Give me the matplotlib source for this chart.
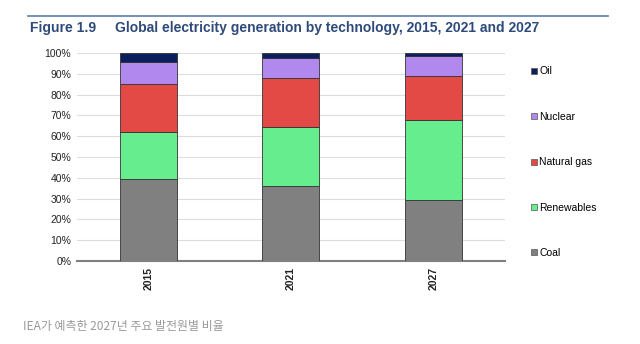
import matplotlib
matplotlib.use("Agg")
import matplotlib.pyplot as plt
from matplotlib.lines import Line2D
import numpy as np

years = ["2015", "2021", "2027"]
series_names = ["Coal", "Renewables", "Natural gas", "Nuclear", "Oil"]
coal = [39.4, 36.3, 29.5]
renewables = [22.8, 27.9, 38.3]
natural_gas = [22.9, 23.6, 21.3]
nuclear = [10.4, 9.8, 9.6]
oil = [4.5, 2.4, 1.3]
yticks = [0, 10, 20, 30, 40, 50, 60, 70, 80, 90, 100]

colors = {"Coal": "#808080", "Renewables": "#66EE8E", "Natural gas": "#E44A45",
          "Nuclear": "#B088EE", "Oil": "#0A1F5C"}

plt.rcParams['font.family'] = ['Liberation Sans', 'DejaVu Sans']

fig = plt.figure(figsize=(6.4, 3.44), dpi=100)
ax = fig.add_axes([0.120, 0.241, 0.669, 0.605])

x = np.arange(len(years))
bottom = np.zeros(len(years))
data = [coal, renewables, natural_gas, nuclear, oil]
for name, vals in zip(series_names, data):
    ax.bar(x, vals, width=0.4, bottom=bottom, color=colors[name],
           edgecolor="#333333", linewidth=0.6, zorder=3)
    bottom += np.array(vals)

ax.set_xlim(-0.5, 2.5)
ax.set_ylim(0, 100)
ax.set_yticks(yticks)
ax.set_yticklabels([f"{v}%" for v in yticks], fontsize=7.5, color="#222222")
ax.set_xticks(x)
ax.set_xticklabels(years, rotation=90, fontsize=7.5, fontweight="bold", color="#222222")
ax.tick_params(axis="both", length=0, pad=4)
ax.grid(axis="y", color="#DDDDDD", linewidth=0.8, zorder=0)
for s in ["top", "right", "left"]:
    ax.spines[s].set_visible(False)
ax.spines["bottom"].set_color("#808080")
ax.spines["bottom"].set_linewidth(1.5)

handles = [Line2D([], [], marker="s", linestyle="none", markersize=4.5,
                  markerfacecolor=colors[n], markeredgecolor="#555555", markeredgewidth=0.5)
           for n in series_names[::-1]]
fig.legend(handles, series_names[::-1], loc="upper left", bbox_to_anchor=(0.82, 0.822),
           frameon=False, fontsize=7.5, labelspacing=3.4, handletextpad=0.1,
           handlelength=0.8, borderpad=0)

fig.add_artist(Line2D([0.044, 0.95], [0.954, 0.954], color="#5A7FAF", linewidth=1.2))
fig.text(0.047, 0.920, "Figure 1.9", fontsize=10, fontweight="bold", color="#2E4A7A",
         va="center", ha="left")
fig.text(0.180, 0.920, "Global electricity generation by technology, 2015, 2021 and 2027",
         fontsize=10, fontweight="bold", color="#2E4A7A", va="center", ha="left")

fig.text(0.036, 0.052, "IEA가 예측한 2027년 주요 발전원별 비율", fontsize=8.6, color="#999999",
         va="center", ha="left", family=["Noto Sans CJK KR", "DejaVu Sans"])

fig.savefig("out.png", dpi=100)
